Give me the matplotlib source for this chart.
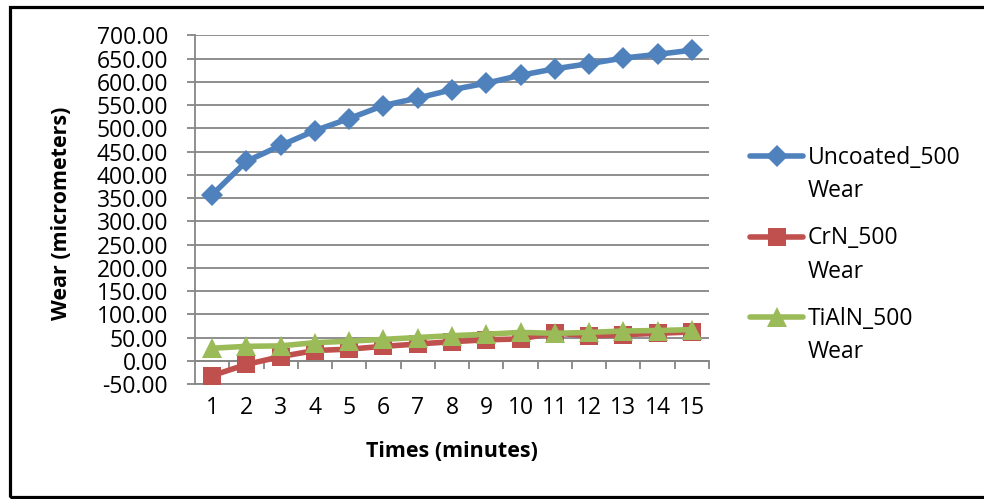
import matplotlib
matplotlib.use('Agg')
import matplotlib.pyplot as plt
from matplotlib.lines import Line2D
from matplotlib.patches import Rectangle

plt.rcParams['font.family'] = ['Open Sans', 'DejaVu Sans']

# Wear readings per minute (micrometers)
minutes = list(range(1, 16))
uncoated_wear = [357, 429, 463, 495, 521, 549, 565, 583, 597, 614, 628, 639, 651, 659, 668]
crn_wear = [-32, -8, 9, 22, 25, 31, 36, 41, 45, 47, 60, 53, 56, 59, 62]
tialn_wear = [27, 31, 32, 39, 42, 46, 50, 54, 57, 61, 59, 61, 64, 65, 67]

series_names = ['Uncoated_500\nWear', 'CrN_500\nWear', 'TiAlN_500\nWear']
series_colors = ['#4F81BD', '#C0504D', '#9BBB59']
series_markers = ['D', 's', '^']
marker_sizes = [11.5, 13.5, 14.5]
y_ticks = list(range(-50, 701, 50))

W, H = 984, 499
fig = plt.figure(figsize=(W / 100, H / 100), dpi=100)

# chart area
ax = fig.add_axes([195 / W, 1 - 384 / H, 514 / W, (384 - 35.3) / H])

grid_col = '#868686'
all_series = [uncoated_wear, crn_wear, tialn_wear]
for vals, col, mk, ms in zip(all_series, series_colors, series_markers, marker_sizes):
    ax.plot(minutes, vals, color=col, lw=4, marker=mk, markersize=ms,
            markeredgewidth=0, solid_capstyle='round', zorder=3)

ax.set_xlim(0.5, 15.5)
ax.set_ylim(-50, 700)
ax.set_yticks(y_ticks)
ax.set_yticklabels([f'{v:.2f}' for v in y_ticks])
ax.set_xticks(minutes)
ax.tick_params(axis='y', length=5.8, width=1.3, color=grid_col, pad=13.5, labelsize=16.5)
ax.tick_params(axis='x', length=0, pad=9, labelsize=16.5)
ax.yaxis.grid(True, color=grid_col, lw=1.3)
ax.set_axisbelow(True)
for side in ['top', 'right']:
    ax.spines[side].set_visible(False)
for side in ['left', 'bottom']:
    ax.spines[side].set_color(grid_col)
    ax.spines[side].set_linewidth(1.3)

# horizontal axis crossing at zero, ticks between categories
zero_axis = ax.secondary_xaxis(50 / 750)
zero_axis.set_xticks([m + 0.5 for m in minutes])
zero_axis.tick_params(length=5.8, width=1.3, color=grid_col, labelbottom=False)
zero_axis.spines['bottom'].set_color(grid_col)
zero_axis.spines['bottom'].set_linewidth(1.3)

ax.set_xlabel('Times (minutes)', fontsize=15.5, fontweight='bold', va='center')
ax.xaxis.set_label_coords(0.5, -0.195)
ax.set_ylabel('Wear (micrometers)', fontsize=15.5, fontweight='bold', va='center')
ax.yaxis.set_label_coords(-0.26, 0.49)

# legend on the right, handle level with first line of each label
for i, (name, col, mk, ms) in enumerate(zip(series_names, series_colors, series_markers, marker_sizes)):
    yc = 156 + 80.5 * i
    fig.add_artist(Line2D([750 / W, 803 / W], [1 - yc / H, 1 - yc / H], color=col, lw=4,
                          solid_capstyle='round', transform=fig.transFigure))
    fig.add_artist(Line2D([776.5 / W], [1 - yc / H], color=col, marker=mk, markersize=ms,
                          markeredgewidth=0, transform=fig.transFigure))
    for j, line in enumerate(name.split('\n')):
        fig.text(808 / W, 1 - (yc + 8 + 33 * j) / H, line, fontsize=16.5, va='baseline', ha='left')

# outer chart frame
fig.add_artist(Rectangle((10 / W, 2 / H), 1.0, 1 - 9 / H, fill=False, edgecolor='black',
                         lw=2.3, transform=fig.transFigure, clip_on=False))

fig.savefig('out.png', dpi=100)
